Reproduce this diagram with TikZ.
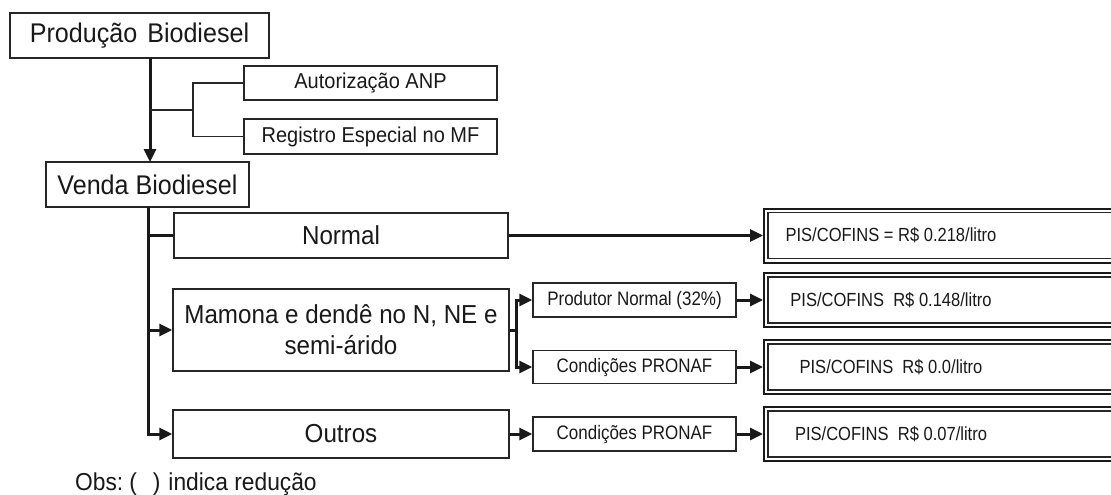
\documentclass[tikz,border=0pt]{standalone}
\usepackage{fontspec}
\setmainfont{Liberation Sans}
\newfontfamily\mainf[FakeStretch=0.93]{Liberation Sans}
\newfontfamily\smallf[FakeStretch=0.87]{Liberation Sans}
\usetikzlibrary{arrows.meta}

\tikzset{
  box/.style={draw=black!85, line width=1.5pt, inner sep=0pt, align=center, text=black!90},
  bigtxt/.style={font=\mainf\fontsize{27}{31}\selectfont},
  midtxt/.style={font=\mainf\fontsize{26}{31}\selectfont},
  subtxt/.style={font=\mainf\fontsize{21.5}{25}\selectfont},
  smalltxt/.style={font=\smallf\fontsize{19.5}{23}\selectfont},
  notetxt/.style={font=\mainf\fontsize{24.5}{28}\selectfont},
  taxbox/.style={draw=black!90, line width=2pt, inner sep=0pt, anchor=west, minimum height=54pt,
                 font=\smallf\fontsize{19}{23}\selectfont, text=black!90},
  taxinner/.style={draw=black!85, line width=1.2pt},
  flow/.style={line width=3pt, draw=black!90},
  flowarrow/.style={flow, -{Triangle[length=13pt,width=12pt]}},
  thinlink/.style={line width=1.3pt, draw=black!85},
}

% rate text centred in the visible part of a box that runs past the edge
\newcommand{\taxtext}[1]{\makebox[394pt][l]{\makebox[254pt]{#1}}}

\begin{document}
\begin{tikzpicture}[x=1pt, y=-1pt]
  \useasboundingbox (0,0) rectangle (1111,495);
  \clip (0,0) rectangle (1111,495);
  \fill[white] (0,0) rectangle (1111,495);

  % production stage and its requirements
  \node[box, bigtxt, minimum width=259pt, minimum height=45pt] (prod) at (139.5,35.5) {Produção\hspace{3pt} Biodiesel};
  \node[box, subtxt, minimum width=253pt, minimum height=34pt] (anp) at (370.5,83) {Autorização ANP};
  \node[box, subtxt, minimum width=253pt, minimum height=35pt] (mf) at (370.5,136.5) {Registro Especial no MF};
  \node[box, bigtxt, minimum width=203pt, minimum height=45pt] (venda) at (147.5,184.5) {Venda Biodiesel};

  % sale categories
  \node[box, midtxt, minimum width=334pt, minimum height=45pt] (normal) at (341,235.5) {Normal};
  \node[box, midtxt, minimum width=336pt, minimum height=82pt] (mamona) at (341,330) {Mamona e dendê no N, NE e\\semi-árido};
  \node[box, midtxt, minimum width=336pt, minimum height=48pt] (outros) at (341,434) {Outros};

  % producer conditions
  \node[box, smalltxt, minimum width=203pt, minimum height=34pt] (prodn) at (634.5,300) {Produtor Normal (32\%)};
  \node[box, smalltxt, minimum width=203pt, minimum height=33pt] (pronafa) at (634.5,367) {Condições PRONAF};
  \node[box, smalltxt, minimum width=203pt, minimum height=34pt] (pronafb) at (634.5,434) {Condições PRONAF};

  % resulting PIS/COFINS rates
  \node[taxbox] (t1) at (763,235.5) {\taxtext{PIS/COFINS = R\$ 0.218/litro}};
  \node[taxbox] (t2) at (763,300) {\taxtext{PIS/COFINS\ \ R\$ 0.148/litro}};
  \node[taxbox] (t3) at (763,367) {\taxtext{PIS/COFINS\ \ R\$ 0.0/litro}};
  \node[taxbox] (t4) at (763,434) {\taxtext{PIS/COFINS\ \ R\$ 0.07/litro}};
  \foreach \t in {t1,t2,t3,t4}
    \draw[taxinner] ([shift={(5,5)}]\t.north west) rectangle ([shift={(-5,-5)}]\t.south east);

  % main flow from production to sale
  \coordinate (pfoot) at (150,58);
  \coordinate (vtop) at (150,162);
  \draw[flowarrow] (pfoot) -- (vtop);

  % requirements bracket
  \coordinate (bmid) at (150,110);
  \coordinate (bj) at (193,110);
  \draw[thinlink] (bmid) -- (bj);
  \draw[thinlink] (anp.west) -| (bj) |- (mf.west);

  % sale spine
  \coordinate (vfoot) at (148,207);
  \coordinate (sn) at (148,235.5);
  \coordinate (sm) at (148,330);
  \draw[flowarrow] (vfoot) |- (outros.west);
  \draw[flow] (sn) -- (normal.west);
  \draw[flowarrow] (sm) -- (mamona.west);

  % mamona fork
  \coordinate (mj) at (516,330);
  \draw[flow] (mamona.east) -- (mj);
  \draw[flowarrow] (mj) |- (prodn.west);
  \draw[flowarrow] (mj) |- (pronafa.west);

  % links to the rates
  \draw[flowarrow] (normal.east) -- (t1.west);
  \draw[flowarrow] (prodn.east) -- (t2.west);
  \draw[flowarrow] (pronafa.east) -- (t3.west);
  \draw[flowarrow] (outros.east) -- (pronafb.west);
  \draw[flowarrow] (pronafb.east) -- (t4.west);

  % note
  \node[notetxt, anchor=west, inner sep=0pt, text=black!90] (obs) at (75,484)
    {Obs:\hspace{6pt}(\hspace{16pt})\hspace{8pt}indica redução};
\end{tikzpicture}
\end{document}
